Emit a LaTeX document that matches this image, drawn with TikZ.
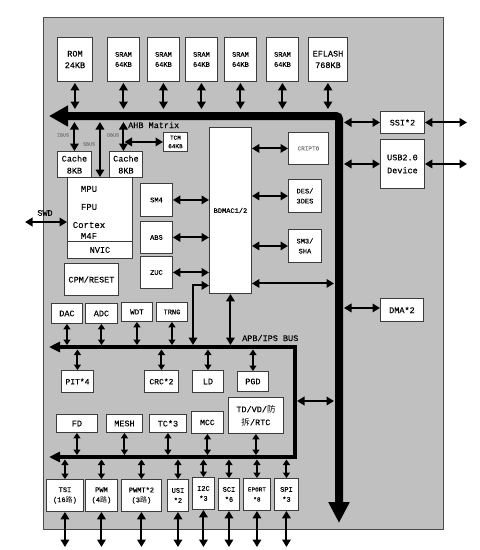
\documentclass[tikz,border=0pt]{standalone}
\usepackage{fontspec}
\setmainfont{Liberation Mono}[FakeBold=0.15]
\newfontfamily\cjk{Noto Sans CJK SC}
\usetikzlibrary{arrows.meta}
\definecolor{bg}{RGB}{192,192,192}
\definecolor{bord}{RGB}{60,60,60}
\newcommand{\fA}{\fontsize{8.5}{11.5}\selectfont}
\newcommand{\fB}{\fontsize{7}{10}\selectfont}
\newcommand{\fC}{\fontsize{6}{8.5}\selectfont}
\newcommand{\fD}{\fontsize{5}{6}\selectfont}
\newcommand{\bx}[7][]{\node[box,#1,anchor=north west,minimum width={(#5-#3)*1pt},minimum height={(#6-#4)*1pt}] (#2) at (#3,#4) {#7};}
\begin{document}
\begin{tikzpicture}[x=1pt,y=-1pt,
  box/.style={draw=bord,fill=white,line width=0.9pt,inner sep=0pt,align=center,font=\fA,text=black},
  dar/.style={line width=2pt,{Triangle[length=7.5pt,width=8.5pt]}-{Triangle[length=7.5pt,width=8.5pt]}},
  sar/.style={line width=2pt,{Triangle[length=5.5pt,width=7pt]}-{Triangle[length=5.5pt,width=7pt]}},
  bigbus/.style={line width=8pt,rounded corners=3pt,{Triangle[length=19pt,width=20pt]}-{Triangle[length=21pt,width=20pt]}},
  apbbus/.style={line width=3.5pt,{Triangle[length=11pt,width=10pt]}-{Triangle[length=11pt,width=10pt]}},
  lbl/.style={inner sep=0pt,font=\fA,text=black},
  glbl/.style={inner sep=0pt,font=\fD,text=black!50}]
\useasboundingbox (0,0) rectangle (480,550);
\fill[white] (0,0) rectangle (480,550);
\draw[fill=bg,draw=black!70,line width=0.8pt] (43,17) rectangle (443,529);
% coordinates
\coordinate (ahbL) at (49,116);
\coordinate (ahbC) at (339,116);
\coordinate (ahbE) at (339,523);
\coordinate (ahbT) at (0,109);
\coordinate (ahbB) at (0,122);
\coordinate (busR) at (334,0);
\coordinate (busRo) at (344,0);
\coordinate (farR) at (467,0);
\coordinate (apbL) at (49,347);
\coordinate (apbC1) at (295,347);
\coordinate (apbC2) at (295,457);
\coordinate (lowL) at (49,457);
\coordinate (apbT) at (0,345);
\coordinate (apbB) at (0,349.5);
\coordinate (lowT) at (0,455);
\coordinate (lowB) at (0,459.5);
\coordinate (botE) at (0,547);
\coordinate (swdL) at (25,222);
\coordinate (dbj) at (124.5,0);
\coordinate (apbj) at (193,345);
\coordinate (apbR) at (297,401);
% buses
\draw[bigbus] (ahbL) -- (ahbC) -- (ahbE);
\draw[apbbus] (apbL) -- (apbC1) -- (apbC2) -- (lowL);
% top row
\bx{rom}{57}{37}{92}{81}{ROM\\24KB}
\bx[font=\fB]{sram1}{107}{37}{139}{81}{SRAM\\64KB}
\bx[font=\fB]{sram2}{147}{37}{179}{81}{SRAM\\64KB}
\bx[font=\fB]{sram3}{185}{37}{217}{81}{SRAM\\64KB}
\bx[font=\fB]{sram4}{224}{37}{256}{81}{SRAM\\64KB}
\bx[font=\fB]{sram5}{266}{37}{298}{81}{SRAM\\64KB}
\bx{eflash}{308}{37}{347}{81}{EFLASH\\768KB}
\foreach \n in {rom,sram1,sram2,sram3,sram4,sram5,eflash}
  \draw[dar,shorten <=1pt] (\n.south) -- (\n.south |- ahbT);
\node[lbl,anchor=west] (ahbtxt) at (128,125) {AHB Matrix};
% core
\bx[font=\fA]{cpu}{67}{177}{132}{241}{}
\bx{nvic}{67}{241}{132}{258}{NVIC}
\node[lbl,font=\fontsize{9}{10}\selectfont] (tmpu) at (89,189) {MPU};
\node[lbl,font=\fontsize{9}{10}\selectfont] (tfpu) at (89,207) {FPU};
\node[lbl,font=\fontsize{9}{10}\selectfont] (tctx) at (89,225) {Cortex};
\node[lbl,font=\fontsize{9}{10}\selectfont] (tm4f) at (89,236) {M4F};
\bx[font=\fontsize{8.5}{12}\selectfont]{cache1}{57}{151}{91}{177}{Cache\\8KB}
\bx[font=\fontsize{8.5}{12}\selectfont]{cache2}{109}{151}{142}{177}{Cache\\8KB}
\bx[font=\fC]{tcm}{163}{132}{187}{151}{TCM\\64KB}
\draw[dar] (cache1.north |- ahbB) -- (cache1.north);
\draw[dar] (cpu.north |- ahbB) -- (cpu.north);
\draw[dar] ([xshift=-2.5pt]cache2.north |- ahbB) -- ([xshift=-2.5pt]cache2.north);
\draw[dar] (dbj |- tcm.west) -- (tcm.west);
\node[glbl] (tibus) at (63,135) {IBUS};
\node[glbl] (tsbus) at (89,144) {SBUS};
\node[glbl] (tdbus) at (113,135) {DBUS};
\draw[dar] (swdL) -- (swdL -| cpu.west);
\node[lbl] (tswd) at (45,213) {SWD};
\bx{cpm}{64}{263}{118}{295}{CPM/RESET}
% crypto
\bx[font=\fB]{bdmac}{209}{127}{251}{293}{BDMAC1/2}
\bx[font=\fB]{sm4}{140}{183}{172}{216}{SM4}
\bx[font=\fB]{abs}{140}{221}{172}{253}{ABS}
\bx[font=\fB]{zuc}{140}{256}{172}{288}{ZUC}
\bx[font=\fC,text=black!50]{cripto}{288}{132}{328}{164}{CRIPTO}
\bx[font=\fB]{des}{288}{179}{321}{212}{DES/\\3DES}
\bx[font=\fB]{sm3}{288}{229}{321}{262}{SM3/\\SHA}
\foreach \n in {sm4,abs,zuc}
  \draw[dar] (\n.east) -- (\n.east -| bdmac.west);
\foreach \n in {cripto,des,sm3}
  \draw[dar] (bdmac.east |- \n.west) -- (\n.west);
\draw[dar] ([yshift=-73pt]bdmac.east) -- ([yshift=-73pt]bdmac.east -| busR);
\draw[dar] (apbj) |- ([yshift=-75pt]bdmac.west);
\draw[dar] (bdmac.south) -- (bdmac.south |- apbT);
% right side
\bx{ssi}{380}{111}{424}{133}{SSI*2}
\bx[font=\fontsize{8.5}{13}\selectfont]{usb}{380}{139}{424}{188}{USB2.0\\Device}
\bx{dma}{380}{298}{423}{321}{DMA*2}
\foreach \n in {ssi,usb}{
  \draw[dar] (\n.west -| busRo) -- (\n.west);
  \draw[dar] (\n.east) -- (\n.east -| farR);}
\draw[dar] ([yshift=2pt]dma.west -| busRo) -- ([yshift=2pt]dma.west);
% APB peripherals
\node[lbl,anchor=west] (apbtxt) at (242,338) {APB/IPS BUS};
\bx{dac}{51}{303}{82}{323}{DAC}
\bx{adc}{85}{303}{117}{323}{ADC}
\bx[font=\fontsize{7.5}{9}\selectfont]{wdt}{121}{302}{152}{321}{WDT}
\bx[font=\fB]{trng}{156}{302}{187}{321}{TRNG}
\foreach \n in {dac,adc,wdt,trng}
  \draw[sar] (\n.south) -- (\n.south |- apbT);
\bx[font=\fontsize{8}{9}\selectfont]{pit}{61}{370}{93}{392}{PIT*4}
\bx[font=\fontsize{8}{9}\selectfont]{crc}{144}{370}{178}{392}{CRC*2}
\bx{ld}{192}{370}{223}{392}{LD}
\bx{pgd}{237}{371}{268}{391}{PGD}
\foreach \n in {pit,crc,ld,pgd}
  \draw[sar] (\n.north |- apbB) -- (\n.north);
\bx{fd}{56}{414}{97}{432}{FD}
\bx{mesh}{106}{414}{142}{432}{MESH}
\bx{tc}{149}{414}{186}{432}{TC*3}
\bx[font=\fontsize{8}{9}\selectfont]{mcc}{191}{411}{223}{433}{MCC}
\bx[font=\fontsize{8.5}{13}\selectfont]{td}{228}{397}{283}{433}{TD/VD/{\cjk 防}\\{\cjk 拆}/RTC}
\foreach \n in {fd,mesh,tc,mcc,td}
  \draw[sar] (\n.south) -- (\n.south |- lowT);
\draw[dar] (apbR) -- (apbR -| busR);
% bottom row
\bx[font=\fB]{tsi}{46}{479}{83}{511}{TSI\\(16{\cjk 路})}
\bx[font=\fB]{pwm}{85}{479}{117}{511}{PWM\\(4{\cjk 路})}
\bx[font=\fB]{pwmt}{121}{479}{161}{511}{PWMT*2\\(3{\cjk 路})}
\bx[font=\fB]{usi}{167}{479}{188}{511}{USI\\*2}
\bx[font=\fB]{iic}{192}{477}{214}{509}{I2C\\*3}
\bx[font=\fB]{sci}{218}{478}{239}{510}{SCI\\*6}
\bx[font=\fontsize{6}{10}\selectfont]{eport}{243}{478}{270}{510}{EPORT\\*8}
\bx[font=\fB]{spi}{274}{478}{298}{510}{SPI\\*3}
\foreach \n in {tsi,pwm,pwmt,usi,iic,sci,eport,spi}{
  \draw[sar] (\n.north |- lowB) -- (\n.north);
  \draw[dar] (\n.south) -- (\n.south |- botE);}
\end{tikzpicture}
\end{document}
